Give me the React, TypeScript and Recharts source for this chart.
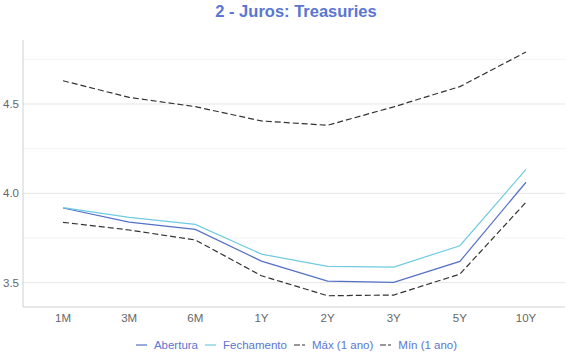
import React from 'react';
import { LineChart, Line, XAxis, YAxis, CartesianGrid, Legend } from 'recharts';

const tenors = ['1M', '3M', '6M', '1Y', '2Y', '3Y', '5Y', '10Y'];
const abertura = [3.918, 3.839, 3.798, 3.621, 3.509, 3.502, 3.619, 4.062];
const fechamento = [3.92, 3.866, 3.826, 3.66, 3.591, 3.587, 3.707, 4.134];
const maximo = [4.63, 4.537, 4.485, 4.405, 4.381, 4.484, 4.597, 4.791];
const minimo = [3.838, 3.795, 3.739, 3.539, 3.427, 3.431, 3.548, 3.95];
const yTicks = [3.5, 3.75, 4.0, 4.25, 4.5, 4.75];
const yLabelTicks = [3.5, 4.0, 4.5];

const seriesNames = ['Abertura', 'Fechamento', 'Máx (1 ano)', 'Mín (1 ano)'];

const data = tenors.map((t, i) => ({
  tenor: t,
  abertura: abertura[i],
  fechamento: fechamento[i],
  max: maximo[i],
  min: minimo[i],
}));

const FONT = '"Liberation Sans", Arial, Helvetica, sans-serif';
const BLUE = '#5470c6';
const CYAN = '#6fcbe2';
const DASH = '#333333';
const TEXT_BLUE = '#5a76d2';

const legendItems = [
  { name: seriesNames[0], color: BLUE, dash: undefined },
  { name: seriesNames[1], color: CYAN, dash: undefined },
  { name: seriesNames[2], color: DASH, dash: '6 2' },
  { name: seriesNames[3], color: DASH, dash: '6 2' },
];

const LegendContent = () => (
  <div
    style={{
      display: 'flex',
      justifyContent: 'center',
      alignItems: 'center',
      height: 30,
      fontFamily: FONT,
      fontSize: 11.5,
      paddingLeft: 35,
    }}
  >
    {legendItems.map((it) => (
      <div key={it.name} style={{ display: 'flex', alignItems: 'center', marginRight: 7 }}>
        <svg width={11} height={10} style={{ marginRight: 7 }}>
          <line x1={0} y1={5} x2={11} y2={5} stroke={it.color} strokeWidth={1.2} strokeDasharray={it.dash} />
        </svg>
        <span style={{ color: TEXT_BLUE }}>{it.name}</span>
      </div>
    ))}
  </div>
);

export default function App() {
  return (
    <div style={{ position: 'absolute', left: 0, top: 0, width: 570, height: 360, background: '#fff', fontFamily: FONT }}>
      <div
        style={{
          position: 'absolute',
          left: 0,
          top: 0,
          width: 592,
          textAlign: 'center',
          fontSize: 16.5,
          fontWeight: 'bold',
          color: TEXT_BLUE,
          lineHeight: '23px',
        }}
      >
        2 - Juros: Treasuries
      </div>
      <LineChart width={570} height={360} data={data} margin={{ top: 40, right: 5, bottom: 0, left: 0 }}>
        <CartesianGrid vertical={false} horizontalValues={[3.75, 4.25, 4.75]} stroke="#f2f2f2" />
        <CartesianGrid vertical={false} horizontalValues={[3.5, 4.0, 4.5]} stroke="#e6e6e6" />
        <XAxis
          dataKey="tenor"
          padding={{ left: 40, right: 39 }}
          height={23}
          tickSize={0}
          tickMargin={7}
          axisLine={{ stroke: '#d0d0d0' }}
          tickLine={false}
          tick={{ fill: '#666', fontSize: 11.5, fontFamily: FONT }}
          interval={0}
        />
        <YAxis
          type="number"
          domain={[3.364, 4.858]}
          ticks={yTicks}
          width={23}
          tickSize={0}
          tickMargin={4}
          axisLine={{ stroke: '#d0d0d0' }}
          tickLine={false}
          tick={{ fill: '#666', fontSize: 11.5, fontFamily: FONT }}
          tickFormatter={(v: number) => (yLabelTicks.includes(v) ? v.toFixed(1) : '')}
          allowDataOverflow
        />
        <Legend verticalAlign="bottom" height={30} content={<LegendContent />} />
        <Line type="linear" dataKey="abertura" name={seriesNames[0]} stroke={BLUE} strokeWidth={1.2} dot={false} isAnimationActive={false} />
        <Line type="linear" dataKey="fechamento" name={seriesNames[1]} stroke={CYAN} strokeWidth={1.2} dot={false} isAnimationActive={false} />
        <Line type="linear" dataKey="max" name={seriesNames[2]} stroke={DASH} strokeWidth={1.2} strokeDasharray="6 3" dot={false} isAnimationActive={false} />
        <Line type="linear" dataKey="min" name={seriesNames[3]} stroke={DASH} strokeWidth={1.2} strokeDasharray="6 3" dot={false} isAnimationActive={false} />
      </LineChart>
    </div>
  );
}
